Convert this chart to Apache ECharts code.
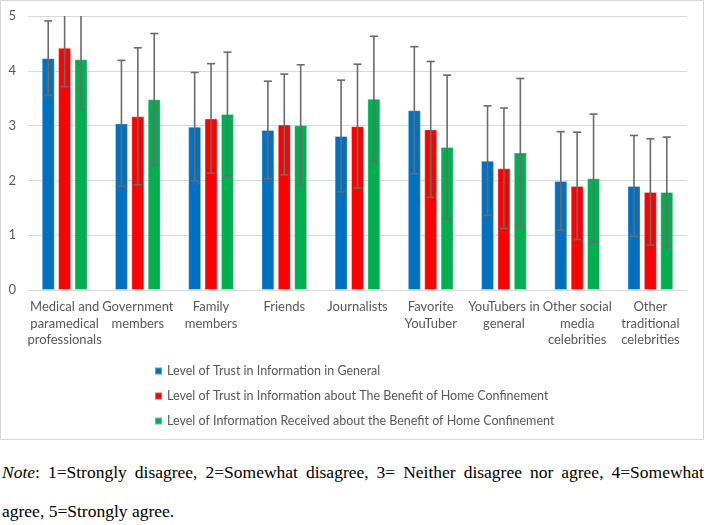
<!DOCTYPE html>
<html>
<head>
<meta charset="utf-8">
<script src="https://cdn.jsdelivr.net/npm/echarts@6/dist/echarts.min.js"></script>
<style>
html,body{margin:0;padding:0;background:#fff;}
#chart{position:absolute;left:0;top:0;width:709px;height:442px;}
#note{position:absolute;left:2px;top:453px;width:702px;font-family:"Liberation Serif","Times New Roman",serif;font-size:17.5px;color:#000;line-height:39px;}
#note .l1{text-align:justify;text-align-last:justify;white-space:nowrap;}
</style>
</head>
<body>
<div id="chart"></div>
<div id="note"><div class="l1"><i>Note</i>: 1=Strongly disagree, 2=Somewhat disagree, 3= Neither disagree nor agree, 4=Somewhat</div><div>agree, 5=Strongly agree.</div></div>
<script>
var categories = ['Medical and\nparamedical\nprofessionals','Government\nmembers','Family\nmembers','Friends','Journalists','Favorite\nYouTuber','YouTubers in\ngeneral','Other social\nmedia\ncelebrities','Other\ntraditional\ncelebrities'];
var seriesNames = ['Level of Trust in Information in General','Level of Trust in Information about The Benefit of Home Confinement','Level of Information Received about the Benefit of Home Confinement'];
var trustGeneral   = [4.23,3.04,2.98,2.92,2.81,3.28,2.36,1.99,1.90];
var trustGeneralSD = [0.68,1.15,0.99,0.89,1.02,1.16,1.00,0.90,0.92];
var trustBenefit   = [4.42,3.17,3.13,3.02,2.99,2.93,2.22,1.90,1.79];
var trustBenefitSD = [0.71,1.25,1.00,0.92,1.13,1.24,1.10,0.98,0.97];
var infoReceived   = [4.21,3.48,3.21,3.01,3.49,2.61,2.51,2.04,1.79];
var infoReceivedSD = [0.92,1.20,1.13,1.10,1.14,1.31,1.35,1.17,1.00];
var yTicks = [0,1,2,3,4,5];

var colors = ['#0070C0','#FF0000','#00B050'];
var means = [trustGeneral, trustBenefit, infoReceived];
var sds = [trustGeneralSD, trustBenefitSD, infoReceivedSD];
var BW = 13, STEP = 16.4;

var chart = echarts.init(document.getElementById('chart'));
var series = [];
means.forEach(function(m, k){
  series.push({
    name: seriesNames[k], type: 'bar', data: m, barWidth: BW, barGap: '26%',
    itemStyle: {color: colors[k], borderColor: 'rgba(255,255,255,0.35)', borderWidth: 1},
    z: 2
  });
});
means.forEach(function(m, k){
  var d = m.map(function(v, i){ return [i, v - sds[k][i], v + sds[k][i]]; });
  series.push({
    name: seriesNames[k] + ' error', type: 'custom', data: d, clip: true, z: 5,
    renderItem: function(params, api){
      var i = api.value(0);
      var lo = api.coord([i, api.value(1)]);
      var hi = api.coord([i, api.value(2)]);
      var x = lo[0] + (k - 1) * STEP;
      var st = {stroke: '#6b6b6b', lineWidth: 1.6};
      return {type: 'group', children: [
        {type: 'line', shape: {x1: x, y1: lo[1], x2: x, y2: hi[1]}, style: st},
        {type: 'line', shape: {x1: x-4, y1: lo[1], x2: x+4, y2: lo[1]}, style: st},
        {type: 'line', shape: {x1: x-4, y1: hi[1], x2: x+4, y2: hi[1]}, style: st}
      ]};
    }
  });
});

chart.setOption({
  animation: false,
  grid: {left: 28, right: 22, top: 16, bottom: 152, containLabel: false},
  xAxis: {
    type: 'category', data: categories,
    axisLine: {lineStyle: {color: '#d9d9d9', width: 1}},
    axisTick: {show: false},
    axisLabel: {interval: 0, color: '#595959', fontFamily: 'Lato', fontSize: 13, lineHeight: 16.5, margin: 9, verticalAlign: 'top'}
  },
  yAxis: {
    type: 'value', min: yTicks[0], max: yTicks[yTicks.length-1], interval: 1,
    axisLine: {show: false}, axisTick: {show: false},
    splitLine: {lineStyle: {color: '#d9d9d9', width: 1}},
    axisLabel: {color: '#595959', fontFamily: 'Lato', fontSize: 13, margin: 12}
  },
  legend: {
    data: seriesNames, orient: 'vertical', left: 149, top: 359,
    itemWidth: 7, itemHeight: 7, itemGap: 11, icon: 'rect',
    textStyle: {color: '#595959', fontFamily: 'Lato', fontSize: 12.5, lineHeight: 14},
    selectedMode: false
  },
  graphic: [{type: 'rect', shape: {x: 0.5, y: 0.5, width: 703, height: 439}, style: {fill: null, stroke: '#d9d9d9', lineWidth: 1}, silent: true}],
  series: series
});
</script>
</body>
</html>
